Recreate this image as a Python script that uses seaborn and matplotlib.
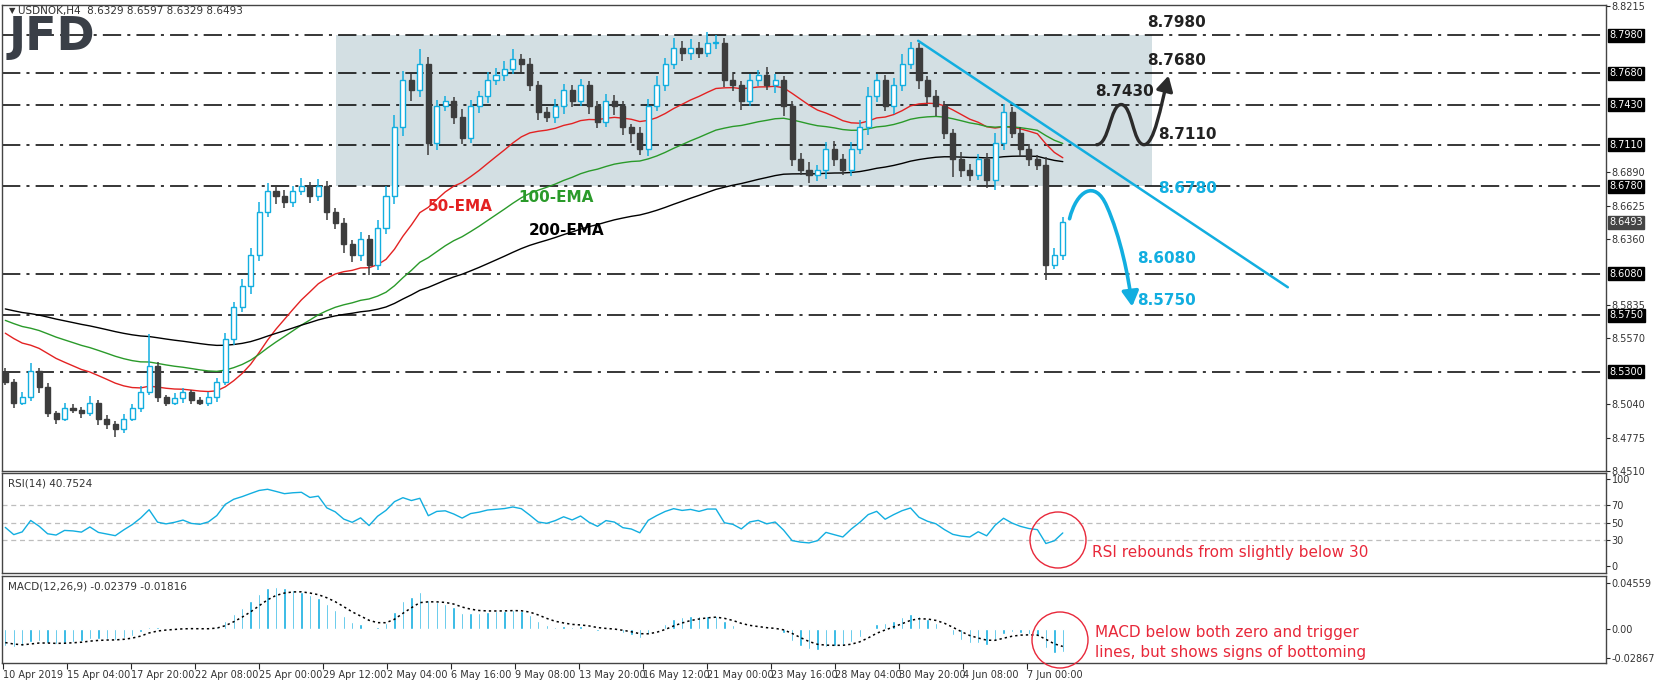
import numpy as np
import pandas as pd
import matplotlib
matplotlib.use("Agg")
import matplotlib.pyplot as plt
import seaborn as sns
from matplotlib.patches import Ellipse, Rectangle, FancyArrowPatch
from matplotlib.path import Path
import matplotlib.transforms as mtrans

# ---------------- data ----------------
closes = [8.5223, 8.5055, 8.5097, 8.5308, 8.5181, 8.4970, 8.4928, 8.5013, 8.5000, 8.4970,
          8.5055, 8.4928, 8.4886, 8.4844, 8.4928, 8.5013, 8.5139, 8.5350, 8.5097, 8.5055,
          8.5090, 8.5139, 8.5072, 8.5055, 8.5097, 8.5223, 8.5561, 8.5813, 8.5982, 8.6235,
          8.6572, 8.6741, 8.6699, 8.6657, 8.6741, 8.6783, 8.6699, 8.6783, 8.6572, 8.6488,
          8.6319, 8.6235, 8.6361, 8.6151, 8.6446, 8.6699, 8.7247, 8.7626, 8.7542, 8.7752,
          8.7120, 8.7415, 8.7457, 8.7331, 8.7162, 8.7415, 8.7499, 8.7626, 8.7668, 8.7710,
          8.7795, 8.7752, 8.7584, 8.7373, 8.7331, 8.7415, 8.7542, 8.7457, 8.7584, 8.7415,
          8.7289, 8.7457, 8.7415, 8.7247, 8.7204, 8.7078, 8.7415, 8.7584, 8.7752, 8.7879,
          8.7837, 8.7879, 8.7837, 8.7921, 8.7921, 8.7626, 8.7584, 8.7457, 8.7626, 8.7668,
          8.7584, 8.7626, 8.7415, 8.6994, 8.6909, 8.6867, 8.6909, 8.7078, 8.6994, 8.6909,
          8.7078, 8.7247, 8.7499, 8.7626, 8.7415, 8.7584, 8.7752, 8.7879, 8.7626, 8.7499,
          8.7415, 8.7204, 8.6994, 8.6909, 8.6867, 8.6994, 8.6825, 8.7120, 8.7373, 8.7204,
          8.7078, 8.6994, 8.6950, 8.6151, 8.6235, 8.6493]
first_open = 8.5300
hi_wick = [3,2,4,6,2,3,2,4,3,2, 5,2,3,2,4,3,5,25,3,2, 4,3,2,3,4,3,5,4,6,5,
           8,6,4,5,4,6,3,5,4,3, 4,3,5,3,6,8,10,7,5,12, 6,5,4,3,6,5,4,6,5,7,
           8,4,5,3,4,6,5,4,5,3, 4,6,5,4,3,5,6,7,5,8, 6,7,5,9,6,4,5,3,5,4,
           6,5,3,4,5,6,4,5,6,4, 5,6,7,5,4,6,8,5,4,3, 5,4,3,6,5,4,5,8,6,4,
           5,4,3,6,5,4]
lo_wick = [3,4,2,3,5,3,4,2,3,4, 2,5,4,6,3,2,3,2,4,3, 2,4,3,2,3,4,3,5,4,6,
           5,4,6,5,4,3,5,4,6,5, 7,6,5,8,4,5,6,7,8,5, 9,5,4,6,5,4,5,6,4,5,
           4,6,5,7,4,5,6,5,4,6, 5,4,7,6,8,5,6,4,5,4, 6,5,4,3,5,6,5,7,4,5,
           4,6,8,5,4,6,5,7,5,4, 5,4,6,5,4,6,5,4,7,6, 8,5,14,6,5,4,6,8,5,4,
           6,5,4,12,3,4]
ema_seeds = {"50": 8.564, "100": 8.573, "200": 8.5813}
levels = [8.7980, 8.7680, 8.7430, 8.7110, 8.6780, 8.6080, 8.5750, 8.5300]
price_ticks = [8.8215, 8.6890, 8.6625, 8.6360, 8.5835, 8.5570, 8.5040, 8.4775, 8.4510]
date_labels = ["10 Apr 2019", "15 Apr 04:00", "17 Apr 20:00", "22 Apr 08:00", "25 Apr 00:00",
               "29 Apr 12:00", "2 May 04:00", "6 May 16:00", "9 May 08:00", "13 May 20:00",
               "16 May 12:00", "21 May 00:00", "23 May 16:00", "28 May 04:00", "30 May 20:00",
               "4 Jun 08:00", "7 Jun 00:00"]

# ---------------- derived ----------------
n = len(closes)
idx = np.arange(n)
c = np.array(closes)
o = np.concatenate([[first_open], c[:-1]])
hi = np.maximum(o, c) + np.array(hi_wick) * 0.001
lo = np.minimum(o, c) - np.array(lo_wick) * 0.001

def ema(vals, span, seed):
    a = 2.0 / (span + 1)
    out = []
    prev = seed
    for v in vals:
        prev = prev + a * (v - prev)
        out.append(prev)
    return np.array(out)

ema50 = ema(c, 25, ema_seeds["50"])
ema100 = ema(c, 50, ema_seeds["100"])
ema200 = ema(c, 100, ema_seeds["200"])

d = np.diff(c, prepend=c[0])
gain = ema(np.clip(d, 0, None), 19, 0.004)
loss = ema(np.clip(-d, 0, None), 19, 0.005)
rsi = 100 - 100 / (1 + gain / np.maximum(loss, 1e-9))
macd = ema(c, 6, 8.5350) - ema(c, 13, 8.5520)
signal = ema(macd, 5, -0.012)

df = pd.DataFrame({"i": idx, "ema50": ema50, "ema100": ema100, "ema200": ema200,
                   "rsi": rsi, "macd": macd, "signal": signal})

# ---------------- layout ----------------
W, H = 1655, 684
sns.set_style("white")
plt.rcParams['font.family'] = ['DejaVu Sans']
fig = plt.figure(figsize=(W / 100, H / 100), dpi=100)
RP = 1606
L, R = 2 / W, RP / W
ax = fig.add_axes([L, 1 - 471 / H, R - L, 466 / H])
axr = fig.add_axes([L, 1 - 573 / H, R - L, 100 / H], sharex=ax)
axm = fig.add_axes([L, 1 - 663 / H, R - L, 87 / H], sharex=ax)

def px2i(px):
    return (px - 5.3) / 8.46

xmin, xmax = px2i(2), px2i(RP)
CY = "#12aee0"
DK = "#2b2b2b"

ax.add_patch(Rectangle((39.1, 8.678), 135.6 - 39.1, 8.798 - 8.678, facecolor="#d3dfe3",
                       edgecolor="none", zorder=0))
for lv in levels:
    ax.axhline(lv, color="black", lw=1.1, linestyle=(0, (12, 4, 2, 4)), zorder=1)

for k in range(n):
    up = c[k] >= o[k]
    col = CY if up else "#3d3d3d"
    ax.vlines(k, lo[k], hi[k], color=col, lw=1.1, zorder=3)
    b0, b1 = min(o[k], c[k]), max(o[k], c[k])
    ax.add_patch(Rectangle((k - 0.3, b0), 0.6, max(b1 - b0, 0.0004),
                           facecolor="white" if up else "#3d3d3d", edgecolor=col, lw=1.0, zorder=4))

sns.lineplot(data=df, x="i", y="ema50", ax=ax, color="#e32222", lw=1, zorder=2)
sns.lineplot(data=df, x="i", y="ema100", ax=ax, color="#2a9a2a", lw=1, zorder=2)
sns.lineplot(data=df, x="i", y="ema200", ax=ax, color="black", lw=1, zorder=2)

ax.plot([107.9, 151.6], [8.7938, 8.5974], color=CY, lw=1.8, zorder=5)
C4 = Path.CURVE4
cyan_path = Path([(125.8, 8.652), (126.6, 8.674), (128.8, 8.684), (130.2, 8.662),
                  (131.8, 8.638), (132.8, 8.605), (133.2, 8.582)],
                 [Path.MOVETO, C4, C4, C4, C4, C4, C4])
ax.add_patch(FancyArrowPatch(path=cyan_path, arrowstyle="-|>,head_length=9,head_width=5",
                             color=CY, lw=2.6, zorder=6))
wave_path = Path([(129.0, 8.711), (130.5, 8.711), (130.6, 8.743), (131.9, 8.743),
                  (133.2, 8.743), (133.3, 8.711), (134.6, 8.711),
                  (135.8, 8.711), (136.6, 8.742), (137.5, 8.766)],
                 [Path.MOVETO, C4, C4, C4, C4, C4, C4, C4, C4, C4])
ax.add_patch(FancyArrowPatch(path=wave_path, arrowstyle="-|>,head_length=9,head_width=5",
                             color=DK, lw=2.4, zorder=6))

lab = dict(fontsize=11, fontweight="bold", zorder=7)
ax.text(135.0, 8.8047, "8.7980", color="#222", **lab)
ax.text(135.0, 8.7744, "8.7680", color="#222", **lab)
ax.text(128.8, 8.7500, "8.7430", color="#222", **lab)
ax.text(136.3, 8.7154, "8.7110", color="#222", **lab)
ax.text(136.3, 8.6724, "8.6780", color=CY, **lab)
ax.text(133.8, 8.6168, "8.6080", color=CY, **lab)
ax.text(133.8, 8.5831, "8.5750", color=CY, **lab)
ax.text(50.0, 8.6580, "50-EMA", color="#e32222", **lab)
ax.text(60.6, 8.6656, "100-EMA", color="#2a9a2a", **lab)
ax.text(61.9, 8.6387, "200-EMA", color="black", **lab)

ax.set_xlim(xmin, xmax)
ax.set_ylim(8.4510, 8.8215 + 0.0008)
ax.set_xlabel(""); ax.set_ylabel("")
ax.yaxis.tick_right()
ax.set_yticks(price_ticks)
ax.set_yticklabels([f"{p:.4f}" for p in price_ticks], fontsize=7, color="#333")
ax.tick_params(axis="y", length=3, pad=1)
ax.tick_params(axis="x", bottom=False, labelbottom=False)
tr = mtrans.blended_transform_factory(ax.transAxes, ax.transData)
for lv in levels:
    ax.text(1.002, lv, f"{lv:.4f}", transform=tr, fontsize=7, color="white", va="center",
            bbox=dict(boxstyle="square,pad=0.15", fc="black", ec="black"), clip_on=False, zorder=8)
ax.text(1.002, c[-1], f"{c[-1]:.4f}", transform=tr, fontsize=7, color="white", va="center",
        bbox=dict(boxstyle="square,pad=0.15", fc="#444", ec="#444"), clip_on=False, zorder=8)

for lv in (70, 50, 30):
    axr.axhline(lv, color="#bdbdbd", lw=0.9, ls=(0, (4, 3)))
sns.lineplot(data=df, x="i", y="rsi", ax=axr, color=CY, lw=1)
axr.set_ylim(-8, 107)
axr.yaxis.tick_right()
axr.set_yticks([100, 70, 50, 30, 0])
axr.set_yticklabels(["100", "70", "50", "30", "0"], fontsize=7, color="#333")
axr.tick_params(axis="y", length=3, pad=1)
axr.tick_params(axis="x", bottom=False, labelbottom=False)
axr.set_xlabel(""); axr.set_ylabel("")
axr.text(0.004, 0.9, "RSI(14) 40.7524", transform=axr.transAxes, fontsize=7.5, color="#333", va="center")

axm.bar(idx, macd, width=0.28, color=CY)
sns.lineplot(data=df, x="i", y="signal", ax=axm, color="black", lw=1.1, linestyle=(0, (1.5, 2)))
axm.set_ylim(-0.0337, 0.0525)
axm.yaxis.tick_right()
axm.set_yticks([0.04559, 0.0, -0.02867])
axm.set_yticklabels(["0.04559", "0.00", "-0.02867"], fontsize=7, color="#333")
axm.tick_params(axis="y", length=3, pad=1)
axm.set_xlabel(""); axm.set_ylabel("")
axm.text(0.004, 0.88, "MACD(12,26,9) -0.02379 -0.01816", transform=axm.transAxes, fontsize=7.5,
         color="#333", va="center")
tick_pos = [px2i(3 + 64 * k) for k in range(len(date_labels))]
axm.set_xticks(tick_pos)
axm.set_xticklabels(date_labels, fontsize=7, color="#333", ha="left")
axm.tick_params(axis="x", bottom=True, length=4, pad=1)
axm.set_xlim(xmin, xmax)

for a in (ax, axr, axm):
    for s in a.spines.values():
        s.set_color("#444"); s.set_linewidth(1)

fig.text(9 / W, 1 - 11 / H, "▼", fontsize=6, color="#333", va="center")
fig.text(18 / W, 1 - 11 / H, "USDNOK,H4  8.6329 8.6597 8.6329 8.6493", fontsize=7.5, color="#333", va="center")
fig.text(9 / W, 1 - 38 / H, "JFD", fontsize=33, fontweight="bold", color="#3a3f47", va="center")

red = "#e8283a"
fig.add_artist(Ellipse((1058 / W, 1 - 540 / H), 56 / W, 56 / H, transform=fig.transFigure,
                       fill=False, ec=red, lw=1))
fig.add_artist(Ellipse((1060 / W, 1 - 640 / H), 56 / W, 56 / H, transform=fig.transFigure,
                       fill=False, ec=red, lw=1))
fig.text(1092 / W, 1 - 553 / H, "RSI rebounds from slightly below 30", fontsize=11, color=red, va="center")
fig.text(1095 / W, 1 - 632 / H, "MACD below both zero and trigger", fontsize=11, color=red, va="center")
fig.text(1095 / W, 1 - 652 / H, "lines, but shows signs of bottoming", fontsize=11, color=red, va="center")

fig.savefig("out.png", dpi=100)
